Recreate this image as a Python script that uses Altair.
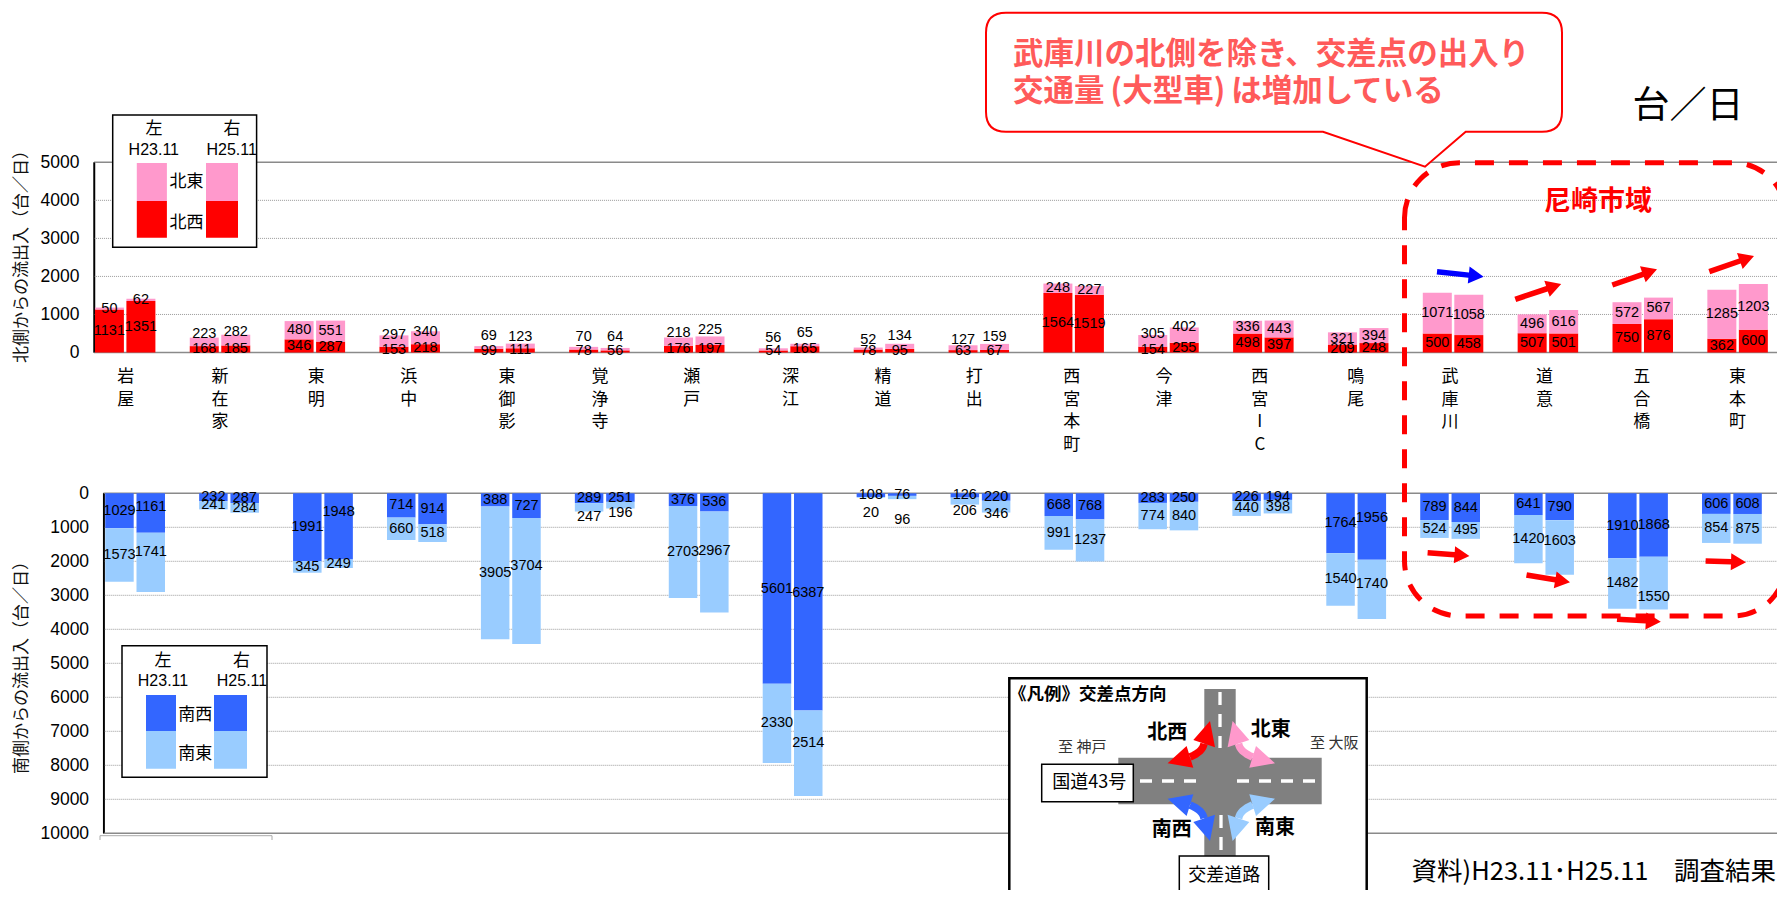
import altair as alt
import pandas as pd

stations = ["岩屋","新在家","東明","浜中","東御影","覚浄寺","瀬戸","深江","精道","打出","西宮本町","今津","西宮IC","鳴尾","武庫川","道意","五合橋","東本町"]
stack_labels = ["岩\n屋","新\n在\n家","東\n明","浜\n中","東\n御\n影","覚\n浄\n寺","瀬\n戸","深\n江","精\n道","打\n出","西\n宮\n本\n町","今\n津","西\n宮\nI\nC","鳴\n尾","武\n庫\n川","道\n意","五\n合\n橋","東\n本\n町"]

nw_23 = [1131,168,346,153,99,78,176,54,78,63,1564,154,498,209,500,507,750,362]
ne_23 = [50,223,480,297,69,70,218,56,52,127,248,305,336,321,1071,496,572,1285]
nw_25 = [1351,185,287,218,111,56,197,165,95,67,1519,255,397,248,458,501,876,600]
ne_25 = [62,282,551,340,123,64,225,65,134,159,227,402,443,394,1058,616,567,1203]
sw_23 = [1029,232,1991,714,388,289,376,5601,108,126,668,283,226,1764,789,641,1910,606]
se_23 = [1573,241,345,660,3905,247,2703,2330,20,206,991,774,440,1540,524,1420,1482,854]
sw_25 = [1161,287,1948,914,727,251,536,6387,76,220,768,250,194,1956,844,790,1868,608]
se_25 = [1741,284,249,518,3704,196,2967,2514,96,346,1237,840,398,1740,495,1603,1550,875]

# hand-placed label nudges seen in the picture (screen pixels, + is downward)
ne23_nudge = [0,-8,0,-6,-11,-11,-9,-11,-9,-8,0,-7,0,1,0,0,0,0]
ne25_nudge = [0,-8,0,-6,-9,-12,-11,-12,-10,-10,0,-8.5,0,0,0,0,0,0]
sw25_nudge = [-5.7,0,-14,0,0,0,0,-8.6,0,0,0,0,0,-8.3,0,0,0,0]
se23_nudge = [0,0,0,0,0,9.4,0,0,16,9.7,0,0,0,0,0,0,0,0]
se25_nudge = [-10.7,0,0,0,-15.3,8,-11,-10,22,7.3,0,0,0,-5.4,0,-6.7,14,0]
name_nudge = [.5,0,1.5,-1,2.5,.5,-2.5,1.5,-1,-4.5,-2,-4.5,-3.5,-2.5,-3,-3.5,-1,0]

C_NW, C_NE, C_SW, C_SE = "#FF0000", "#FF99CC", "#3366FF", "#99CCFF"
JP = "Noto Sans CJK JP"
LAT = "Liberation Sans"

OX = OY = -8  # reference page pixels -> chart pixels


def table(low_a, high_a, low_b, high_b, nudge_hi_a, nudge_hi_b, nudge_lo_a, nudge_lo_b, step, bar, ppu):
    # ppu: signed screen pixels (downward) per data unit
    rows = []
    for i in range(len(stations)):
        for side, low, high, nl, nh in ((0, low_a[i], high_a[i], nudge_lo_a[i], nudge_hi_a[i]),
                                        (1, low_b[i], high_b[i], nudge_lo_b[i], nudge_hi_b[i])):
            x0 = i + side * step
            x1 = x0 + bar
            rows.append(dict(x0=x0, x1=x1, xm=(x0 + x1) / 2, y0=0, y1=low, ym=low / 2 + nl / ppu, v=low, seg="low"))
            rows.append(dict(x0=x0, x1=x1, xm=(x0 + x1) / 2, y0=low, y1=low + high,
                             ym=low + high / 2 + nh / ppu, v=high, seg="high"))
    return pd.DataFrame(rows)


def panel(df, xscale, yscale, ticks, colors, title, title_x, title_y, axis_off, u0, u1, solid):
    grid = pd.DataFrame({"y": [t for t in ticks if t not in solid], "a": u0, "b": u1})
    heavy = pd.DataFrame({"y": solid, "a": u0, "b": u1})
    g1 = alt.Chart(grid).mark_rule(color="#9a9a9a", strokeWidth=1, strokeDash=[1, 1]).encode(
        x=alt.X("a:Q", scale=xscale, axis=None), x2="b:Q",
        y=alt.Y("y:Q", scale=yscale, axis=alt.Axis(
            orient="left", values=ticks, grid=False, tickSize=0, labelPadding=15, labelFont=LAT, labelFontSize=17.5,
            labelColor="black", domainColor="black", domainWidth=1.5, format="d", offset=axis_off,
            title=title, titleFont=JP, titleFontSize=17, titleFontWeight="normal", titleColor="#111111",
            titleAngle=270, titleAlign="center", titleBaseline="middle", titleX=title_x, titleY=title_y)))
    g2 = alt.Chart(heavy).mark_rule(color="#8a8a8a", strokeWidth=1.6).encode(
        x=alt.X("a:Q", scale=xscale, axis=None), x2="b:Q", y=alt.Y("y:Q", scale=yscale, axis=None))
    bars = alt.Chart(df).mark_rect().encode(
        x=alt.X("x0:Q", scale=xscale, axis=None), x2="x1:Q",
        y=alt.Y("y0:Q", scale=yscale, axis=None), y2="y1:Q",
        color=alt.Color("seg:N", scale=alt.Scale(domain=["low", "high"], range=colors), legend=None))
    labels = alt.Chart(df).mark_text(font=LAT, fontSize=14.5, color="black").encode(
        x=alt.X("xm:Q", scale=xscale, axis=None),
        y=alt.Y("ym:Q", scale=yscale, axis=None), text="v:Q")
    return [g1, g2, bars, labels]


# ---- panels -------------------------------------------------------------
T_STEP, T_BAR, T_GROUP = 31.5 / 94.85, 29 / 94.85, 94.85
B_STEP, B_BAR, B_GROUP = 31.3 / 93.93, 28.5 / 93.93, 93.93
T_LEFT, B_LEFT = 94.9 + OX, 105.2 + OX

top_df = table(nw_23, ne_23, nw_25, ne_25, ne23_nudge, ne25_nudge, [0] * 18, [0] * 18, T_STEP, T_BAR, -0.03804)
bot_df = table(sw_23, se_23, sw_25, se_25, se23_nudge, se25_nudge, [0] * 18, sw25_nudge, B_STEP, B_BAR, 0.034)

top_x = alt.Scale(domain=[0, 18], range=[T_LEFT, T_LEFT + 18 * T_GROUP], nice=False, zero=False)
top_y = alt.Scale(domain=[0, 5000], range=[352.5 + OY, 162.3 + OY], nice=False)
bot_x = alt.Scale(domain=[0, 18], range=[B_LEFT, B_LEFT + 18 * B_GROUP], nice=False, zero=False)
bot_y = alt.Scale(domain=[0, 10000], range=[493.3 + OY, 833.3 + OY], nice=False)

top = panel(top_df, top_x, top_y, [0, 1000, 2000, 3000, 4000, 5000], [C_NW, C_NE],
            "北側からの流出入（台／日）", 21.7 - 94, 252 + OY, -(94 + OX), -0.01, 17.82, [0, 5000])
bottom = panel(bot_df, bot_x, bot_y, list(range(0, 10001, 1000)), [C_SW, C_SE],
               "南側からの流出入（台／日）", 21.7 - 103.6, 663 + OY, -(103.6 + OX), -0.02, 17.88, [0, 10000])

names_df = pd.DataFrame({
    "t": stack_labels,
    "x": [i + (T_STEP + T_BAR) / 2 + name_nudge[i] / T_GROUP for i in range(18)],
})
names = alt.Chart(names_df).mark_text(font=JP, fontSize=17, lineBreak="\n", lineHeight=22.5,
                                      baseline="top", align="center", color="black").encode(
    x=alt.X("x:Q", scale=top_x, axis=None), y=alt.value(369 + OY), text="t:N")

one = alt.Data(values=[{}])


def shape(path, fill=None, stroke=None, sw=1.0, dash=None):
    kw = dict(shape=path, size=4, opacity=1, filled=fill is not None)
    if fill is not None:
        kw["fill"] = fill
    if stroke is not None:
        kw.update(stroke=stroke, strokeWidth=sw)
    else:
        kw["strokeWidth"] = 0
    if dash:
        kw["strokeDash"] = dash
    return alt.Chart(one).mark_point(**kw).encode(x=alt.value(OX), y=alt.value(OY))


def box(x0, y0, x1, y1, fill="white", stroke="black", sw=1.5):
    return shape(f"M{x0},{y0}L{x1},{y0}L{x1},{y1}L{x0},{y1}Z", fill=fill, stroke=stroke, sw=sw)


def txt(s, x, y, size=17, font=JP, color="black", weight="normal", align="center"):
    return alt.Chart(one).mark_text(text=s, font=font, fontSize=size, color=color, fontWeight=weight,
                                    align=align, baseline="middle").encode(
        x=alt.value(x + OX), y=alt.value(y + OY))


def arrow(x0, y0, x1, y1, color, shaft=5.5, hl=15, hw=17):
    dx, dy = x1 - x0, y1 - y0
    n = (dx * dx + dy * dy) ** 0.5
    ux, uy = dx / n, dy / n
    px, py = -uy, ux
    bx, by = x1 - ux * hl, y1 - uy * hl
    pts = [(x0 + px * shaft / 2, y0 + py * shaft / 2), (bx + px * shaft / 2, by + py * shaft / 2),
           (bx + px * hw / 2, by + py * hw / 2), (x1, y1), (bx - px * hw / 2, by - py * hw / 2),
           (bx - px * shaft / 2, by - py * shaft / 2), (x0 - px * shaft / 2, y0 - py * shaft / 2)]
    return shape("M" + "L".join(f"{a:.1f},{b:.1f}" for a, b in pts) + "Z", fill=color)


def turn(color, sx, sy):
    cx, cy = 1221.3, 781.0
    m = lambda a, b: f"{cx + sx * a / 3:.1f},{cy + sy * b / 3:.1f}"
    head = f"M{m(-34,-180)}L{m(-84,-123)}L{m(-19,-101)}Z M{m(-161,-53)}L{m(-104,-105)}L{m(-84,-40)}Z"
    # curved stem, sampled from a quadratic between the two heads
    a0, b0, a1, b1, a2, b2 = -52, -112, -55, -88, -94, -72
    seg = []
    for k in range(9):
        t = k / 8
        seg.append(m((1 - t) ** 2 * a0 + 2 * t * (1 - t) * a1 + t * t * a2,
                     (1 - t) ** 2 * b0 + 2 * t * (1 - t) * b1 + t * t * b2))
    return [shape("M" + "L".join(seg), stroke=color, sw=7.5), shape(head, fill=color)]


layers = top + [names] + bottom

# axis spines, drawn over the panels
layers += [shape("M94,162.3L94,352.5", stroke="black", sw=1.3),
           shape("M103.6,493.3L103.6,833.3", stroke="black", sw=1.3)]

# legend boxes
layers += [box(112.7, 115, 256.6, 247.3),
           txt("左", 154, 129), txt("右", 232, 129),
           txt("H23.11", 153.8, 150, 16, LAT), txt("H25.11", 231.7, 150, 16, LAT),
           box(136.8, 163, 166.9, 201, C_NE, None, 0), box(136.8, 201, 166.9, 237.7, C_NW, None, 0),
           box(206, 163, 238, 201, C_NE, None, 0), box(206, 201, 238, 237.7, C_NW, None, 0),
           txt("北東", 186.6, 182.3), txt("北西", 186.6, 222.7)]
layers += [box(122, 645.7, 267, 777.3),
           txt("左", 163, 661), txt("右", 241.6, 661),
           txt("H23.11", 163, 681, 16, LAT), txt("H25.11", 242, 681, 16, LAT),
           box(146, 695, 176, 731, C_SW, None, 0), box(146, 731, 176, 768.7, C_SE, None, 0),
           box(214, 695, 247, 731, C_SW, None, 0), box(214, 731, 247, 768.7, C_SE, None, 0),
           txt("南西", 195.3, 715), txt("南東", 195.3, 754)]
layers.append(shape("M100,840L100,835.7L272,835.7L272,840", stroke="#aaaaaa", sw=1))

# callout
layers += [shape("M1006,12.7L1542,12.7Q1562,12.7 1562,32.7L1562,111.7Q1562,131.7 1542,131.7L1465.7,131.7"
                 "L1425,166.7L1323,131.7L1006,131.7Q986,131.7 986,111.7L986,32.7Q986,12.7 1006,12.7Z",
                 fill="white", stroke="#FF0000", sw=2),
           txt("武庫川の北側を除き、交差点の出入り", 1013, 55, 30.5, JP, "#FF5A5A", "bold", "left"),
           txt("交通量\u2009(大型車)\u2009は増加している", 1013, 92, 30.5, JP, "#FF5A5A", "bold", "left"),
           txt("台／日", 1688, 106.7, 37)]

# dashed region
layers += [shape("M1404.5,218A55,55 0 0 1 1460,162.7L1733,162.7A53,53 0 0 1 1786,216L1786,563"
                 "A53,53 0 0 1 1733,616L1460,616A55,55 0 0 1 1404.5,561Z",
                 stroke="#FF0000", sw=5, dash=[19, 15]),
           txt("尼崎市域", 1598, 201.7, 27, JP, "#FF0000", "bold")]

# trend arrows
layers += [arrow(1437, 271.7, 1483.6, 276.7, "#0000FF"),
           arrow(1515.3, 299.3, 1561.2, 284, "#FF0000"),
           arrow(1612.3, 285, 1657, 269.3, "#FF0000"),
           arrow(1709.3, 271.7, 1754, 256, "#FF0000"),
           arrow(1427.6, 552.7, 1469.4, 556, "#FF0000"),
           arrow(1526.5, 575, 1570, 582.3, "#FF0000"),
           arrow(1617, 619.3, 1660.8, 621.7, "#FF0000"),
           arrow(1705.6, 561, 1746, 562.3, "#FF0000")]

# intersection key
GREY = "#808080"
layers += [box(1009.3, 678.3, 1366.7, 912, "white", "black", 2.5),
           txt("《凡例》交差点方向", 1009, 695, 17.5, JP, "black", "bold", "left"),
           box(1204.3, 689, 1235.7, 856, GREY, None, 0),
           box(1118.3, 757.7, 1321.7, 804.3, GREY, None, 0),
           shape("M1193,757.7L1204.3,746L1235.7,746L1247,757.7L1247,804.3L1235.7,816L1204.3,816L1193,804.3Z", fill=GREY),
           shape("M1140,781L1196,781M1237,781L1321.7,781", stroke="white", sw=3.3, dash=[12, 10]),
           shape("M1220,692L1220,748M1221,815L1221,853", stroke="white", sw=3.3, dash=[13, 9])]
layers += turn(C_NW, 1, 1) + turn(C_NE, -1, 1) + turn(C_SW, 1, -1) + turn(C_SE, -1, -1)
layers += [txt("北西", 1167.3, 733.3, 20, JP, "black", "bold"),
           txt("北東", 1270.7, 730, 20, JP, "black", "bold"),
           txt("南西", 1171.7, 830, 20, JP, "black", "bold"),
           txt("南東", 1275, 827.7, 20, JP, "black", "bold"),
           txt("至 神戸", 1082.3, 747.3, 15, JP, "#333333"),
           txt("至 大阪", 1334.3, 743.3, 15, JP, "#333333"),
           box(1041.7, 764.3, 1133.3, 801.7), txt("国道43号", 1089.3, 783.3, 18),
           box(1179.3, 856, 1268.7, 892.7), txt("交差道路", 1224.3, 875.5, 18),
           txt("資料)H23.11･H25.11　調査結果", 1776, 871.7, 25.5, JP, "black", "normal", "right")]

chart = alt.layer(*layers).resolve_scale(x="independent", y="independent", color="independent").properties(
    width=1769, height=882, padding=0,
    autosize=alt.AutoSizeParams(type="none", contains="padding"),
).configure_view(stroke=None)

chart.save("out.html", embed_options={"renderer": "svg", "actions": False})
